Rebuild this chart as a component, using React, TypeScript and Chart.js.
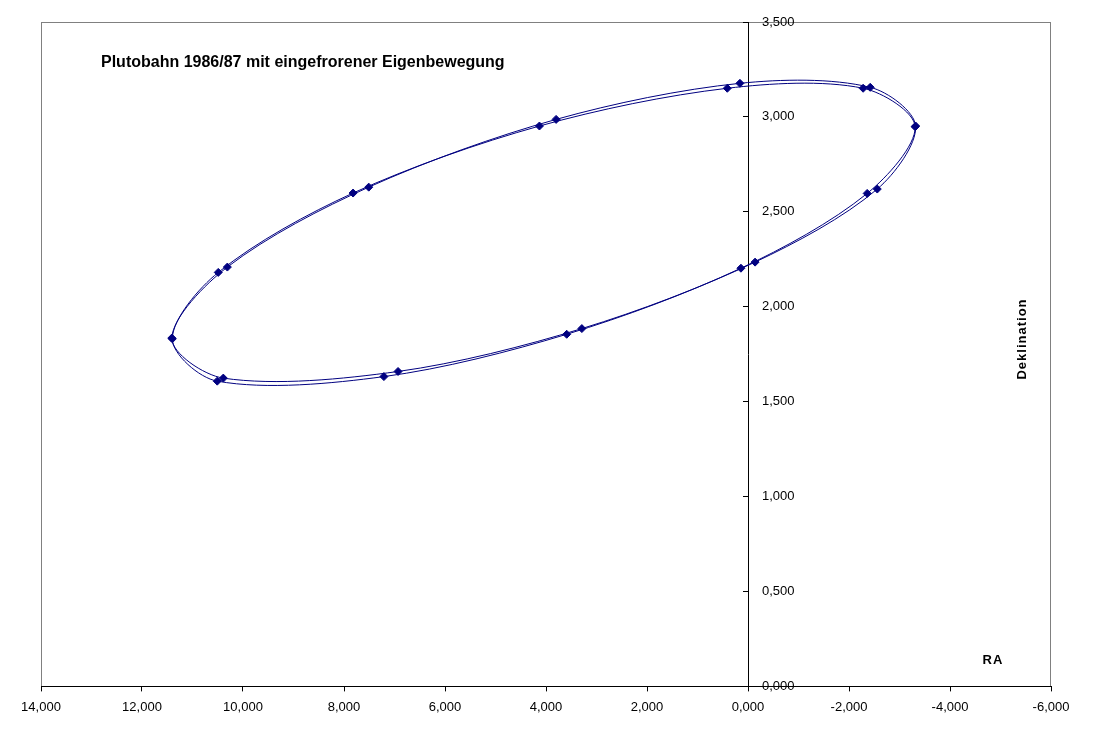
import React, { useEffect, useRef } from 'react';
import { Chart, registerables } from 'chart.js';

Chart.register(...registerables);

// Series A (first orbit)
const raA = [10.51, 7.21, 3.59, 0.14, -2.36, -3.31, -2.28, 0.41, 4.13, 7.82, 10.49, 11.40];
const deA = [1.608, 1.632, 1.855, 2.203, 2.597, 2.948, 3.151, 3.151, 2.952, 2.599, 2.181, 1.831];
// Series B (second orbit)
const raB = [10.39, 6.93, 3.29, -0.14, -2.56, -3.32, -2.42, 0.16, 3.80, 7.51, 10.31, 11.41];
const deB = [1.624, 1.659, 1.885, 2.235, 2.620, 2.952, 3.156, 3.177, 2.987, 2.630, 2.209, 1.835];

const xTickValues = [14, 12, 10, 8, 6, 4, 2, 0, -2, -4, -6];
const yTickValues = [0, 0.5, 1, 1.5, 2, 2.5, 3, 3.5];

const chartTitle = 'Plutobahn 1986/87 mit eingefrorener Eigenbewegung';
const xTitle = 'RA';
const yTitle = 'Deklination';

const NAVY = '#000080';
const FONT = '"Liberation Sans", Arial, sans-serif';

const fmt = (v: number) => v.toFixed(3).replace('.', ',');

function loopData(ra: number[], de: number[]) {
  const pts = ra.map((x, i) => ({ x, y: de[i] }));
  const n = pts.length;
  return { data: [pts[n - 1], ...pts, pts[0], pts[1]], n };
}

function makeDataset(ra: number[], de: number[]) {
  const { data, n } = loopData(ra, de);
  return {
    data,
    showLine: true,
    borderColor: NAVY,
    backgroundColor: NAVY,
    borderWidth: 1,
    tension: 0.32,
    pointStyle: 'rectRot',
    pointRadius: (c: any) => (c.dataIndex >= 1 && c.dataIndex <= n ? 4 : 0),
    pointBorderWidth: 1,
    pointBorderColor: NAVY,
    pointBackgroundColor: NAVY,
    segment: {
      borderColor: (c: any) =>
        c.p0DataIndex === 0 || c.p0DataIndex === n + 1 ? 'rgba(0,0,0,0)' : NAVY,
    },
  };
}

const plotBorder = {
  id: 'plotBorder',
  beforeDraw(chart: any) {
    const { ctx, chartArea: a } = chart;
    ctx.save();
    ctx.strokeStyle = '#808080';
    ctx.lineWidth = 1;
    ctx.strokeRect(
      Math.round(a.left) + 0.5,
      Math.round(a.top) + 0.5,
      Math.round(a.right - a.left) - 1,
      Math.round(a.bottom - a.top)
    );
    ctx.restore();
  },
};

const texts = {
  id: 'texts',
  afterDraw(chart: any) {
    const { ctx, chartArea: a } = chart;
    const xs = chart.scales.x;
    const ys = chart.scales.y;
    ctx.save();
    ctx.fillStyle = '#000';
    // y tick labels to the right of the axis line at RA = 0
    ctx.font = `13px ${FONT}`;
    ctx.textAlign = 'left';
    ctx.textBaseline = 'middle';
    const x0 = xs.getPixelForValue(0);
    ys.ticks.forEach((t: any) => {
      ctx.fillText(fmt(t.value), x0 + 14, ys.getPixelForValue(t.value));
    });
    // chart title inside plot area
    ctx.font = `bold 16px ${FONT}`;
    ctx.textAlign = 'left';
    ctx.fillText(chartTitle, a.left + 60, a.top + 41);
    // axis titles
    ctx.font = `bold 13px ${FONT}`;
    (ctx as any).letterSpacing = '1px';
    ctx.textAlign = 'center';
    ctx.fillText(xTitle, a.right - 58, a.bottom - 26);
    ctx.translate(a.right - 29, a.top + 317);
    ctx.rotate(-Math.PI / 2);
    ctx.fillText(yTitle, 0, 0);
    ctx.restore();
  },
};

export default function App() {
  const ref = useRef<HTMLCanvasElement | null>(null);

  useEffect(() => {
    if (!ref.current) return;
    const chart = new Chart(ref.current, {
      type: 'scatter',
      data: {
        datasets: [makeDataset(raA, deA), makeDataset(raB, deB)] as any,
      },
      options: {
        responsive: false,
        animation: false,
        layout: { padding: { top: 22, left: 41, right: 42, bottom: 9 } },
        plugins: {
          legend: { display: false },
          tooltip: { enabled: false },
          title: { display: false },
        },
        scales: {
          x: {
            type: 'linear',
            reverse: true,
            min: -6,
            max: 14,
            afterBuildTicks: (s: any) => {
              s.ticks = xTickValues.map((v) => ({ value: v }));
            },
            ticks: {
              autoSkip: false,
              maxRotation: 0,
              padding: 8,
              color: '#000',
              font: { family: FONT, size: 13 },
              callback: (v: any) => fmt(Number(v)),
            },
            grid: { drawOnChartArea: false, tickLength: 5, color: '#000' },
            border: { color: '#000' },
          },
          y: {
            type: 'linear',
            position: { x: 0 } as any,
            min: 0,
            max: 3.5,
            afterBuildTicks: (s: any) => {
              s.ticks = yTickValues.map((v) => ({ value: v }));
            },
            ticks: { display: false },
            grid: { drawOnChartArea: false, tickLength: 5, color: '#000' },
            border: { color: '#000' },
          },
        },
      },
      plugins: [plotBorder, texts],
    });
    return () => chart.destroy();
  }, []);

  return (
    <div style={{ position: 'absolute', left: 0, top: 0, width: 1093, height: 732 }}>
      <canvas ref={ref} width={1093} height={732} style={{ display: 'block' }} />
    </div>
  );
}
